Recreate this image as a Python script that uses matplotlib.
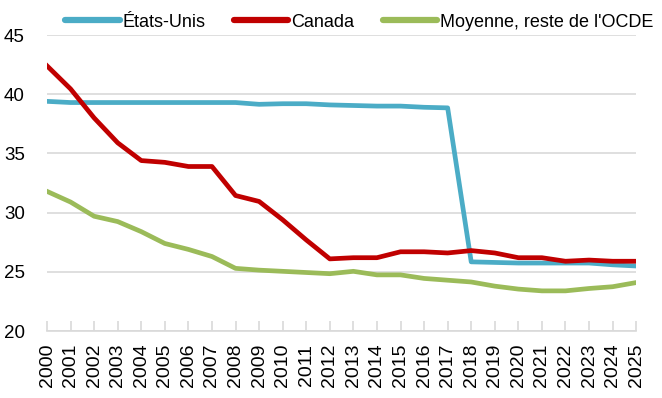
import matplotlib
matplotlib.use("Agg")
import matplotlib.pyplot as plt

years = list(range(2000, 2026))
etats_unis = [39.4, 39.3, 39.3, 39.3, 39.3, 39.3, 39.3, 39.3, 39.3, 39.15, 39.2, 39.2, 39.1,
              39.05, 39.0, 39.0, 38.9, 38.85, 25.85, 25.8, 25.75, 25.75, 25.75, 25.75, 25.6, 25.5]
canada = [42.4, 40.45, 38.0, 35.9, 34.4, 34.25, 33.9, 33.9, 31.45, 30.95, 29.4, 27.7, 26.1,
          26.2, 26.2, 26.7, 26.7, 26.6, 26.8, 26.6, 26.2, 26.2, 25.9, 26.0, 25.9, 25.9]
moyenne_ocde = [31.8, 30.9, 29.7, 29.25, 28.4, 27.4, 26.9, 26.3, 25.3, 25.15, 25.05, 24.95, 24.85,
                25.05, 24.75, 24.75, 24.45, 24.3, 24.15, 23.8, 23.55, 23.4, 23.4, 23.6, 23.75, 24.1]
labels = ["États-Unis", "Canada", "Moyenne, reste de l'OCDE"]
colors = ["#4BACC6", "#C00000", "#9BBB59"]
y_ticks = [20, 25, 30, 35, 40, 45]

plt.rcParams["font.family"] = ["Liberation Sans", "DejaVu Sans"]

fig = plt.figure(figsize=(6.62, 3.98), dpi=100)
ax = fig.add_axes([0.071, 0.168, 0.890, 0.744])

x = list(range(len(years)))
for series, lab, col in zip([etats_unis, canada, moyenne_ocde], labels, colors):
    ax.plot(x, series, color=col, lw=3.4, label=lab, solid_joinstyle="round", zorder=3)

ax.set_xlim(0, len(years) - 1)
ax.set_ylim(20, 45)
ax.set_yticks(y_ticks)
ax.set_yticklabels([str(v) for v in y_ticks], fontsize=13.5)
ax.tick_params(axis="y", length=0, pad=16)
ax.set_xticks(x)
ax.set_xticklabels([str(y) for y in years], rotation=90, fontsize=14)
ax.tick_params(axis="x", direction="in", length=7, color="#D9D9D9", width=1.2, pad=9)
ax.grid(axis="y", color="#D9D9D9", lw=1.2, zorder=0)
for s in ["top", "right", "left"]:
    ax.spines[s].set_visible(False)
ax.spines["bottom"].set_color("#D9D9D9")
ax.spines["bottom"].set_linewidth(1.2)

leg = ax.legend(loc="lower center", bbox_to_anchor=(0.53, 0.99), ncol=3, frameon=False,
                fontsize=13, handlelength=3.0, handletextpad=0.15, columnspacing=1.6,
                borderaxespad=0)
for h in leg.get_lines():
    h.set_linewidth(4.5)
    h.set_solid_capstyle("round")

fig.savefig("out.png", dpi=100)
